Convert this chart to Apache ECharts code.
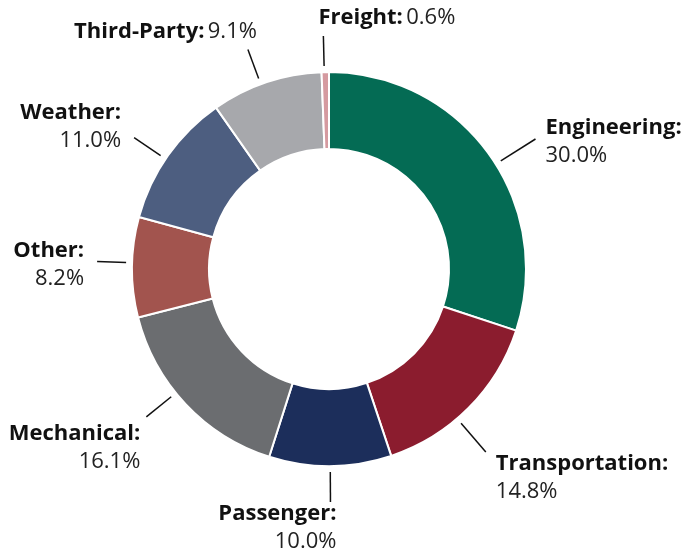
<!DOCTYPE html>
<html>
<head>
<meta charset="utf-8">
<script src="https://cdn.jsdelivr.net/npm/echarts@6/dist/echarts.min.js"></script>
<style>
  html, body { margin: 0; padding: 0; background: #fff; }
  #chart { width: 689px; height: 559px; }
</style>
</head>
<body>
<div id="chart"></div>
<script>
// 数据
var categories = ['Engineering', 'Transportation', 'Passenger', 'Mechanical', 'Other', 'Weather', 'Third-Party', 'Freight'];
var shares = [30.0, 14.8, 10.0, 16.1, 8.2, 11.0, 9.1, 0.6];
var colors = ['#046B54', '#8B1C2E', '#1C2E5B', '#6B6D70', '#A2544E', '#4D5E80', '#A7A8AC', '#D59AA0'];

// 引导线的布局：角度偏移（度，顺时针）、长度、标签纵向微调
var leaderShift = [3.7, 4.5, 0, 4.3, 1.3, -1.2, -1.7, -0.3];
var leaderLen = [41, 38, 30, 32, 29, 32, 31, 30];
var labelDy = [0, 0, 0, 5, 0, -14, 0, 0];

var CENTER = [329, 269];
var R_OUT = 197;

// 每个扇区中点所在的比例（从顶部顺时针）
var total = shares.reduce(function (a, b) { return a + b; }, 0);
var midFrac = [];
var acc = 0;
shares.forEach(function (v) {
  midFrac.push((acc + v / 2) / total);
  acc += v;
});

var myChart = echarts.init(document.getElementById('chart'));

var option = {
  animation: false,
  series: [
    {
      type: 'pie',
      center: CENTER,
      radius: [120, R_OUT],
      startAngle: 90,
      clockwise: true,
      avoidLabelOverlap: false,
      itemStyle: {
        borderColor: '#fff',
        borderWidth: 2
      },
      label: {
        show: true,
        position: 'outside',
        formatter: function (p) {
          var f = midFrac[p.dataIndex];
          var sep = (f > 0.85 || f < 0.02) ? ' ' : '\n';   // 顶部的标签单行显示
          return '{n|' + p.name + ':}' + sep + '{v|' + p.value.toFixed(1) + '%}';
        },
        rich: {
          n: { fontFamily: 'Open Sans', fontWeight: 'bold', fontSize: 22, color: '#111', lineHeight: 28 },
          v: { fontFamily: 'Open Sans', fontWeight: 'normal', fontSize: 22, color: '#222', lineHeight: 28 }
        }
      },
      labelLine: {
        show: true,
        length: 30,
        length2: 0,
        lineStyle: { color: '#111', width: 1.5 }
      },
      labelLayout: function (params) {
        var pts = params.labelLinePoints;
        if (!pts) return {};
        var i = params.dataIndex;
        // 扇区中点方向（来自饼图布局），再按偏移旋转
        var a = Math.atan2(pts[0][1] - CENTER[1], pts[0][0] - CENTER[0]);
        a += (leaderShift[i] || 0) * Math.PI / 180;
        var ux = Math.cos(a), uy = Math.sin(a);
        var r0 = R_OUT + 6, r1 = r0 + (leaderLen[i] || 30);
        var start = [CENTER[0] + ux * r0, CENTER[1] + uy * r0];
        var end = [CENTER[0] + ux * r1, CENTER[1] + uy * r1];

        var align, x;
        if (Math.abs(ux) < 0.15) {
          align = ux < 0 ? 'left' : 'right';
          x = ux < 0 ? end[0] - 5 : end[0] + 6;
        } else if (uy < -0.75) {
          align = ux < 0 ? 'right' : 'left';
          x = ux < 0 ? end[0] + 9 : end[0] - 9;
        } else if (uy > 0.6) {
          align = ux > 0 ? 'left' : 'right';
          x = ux > 0 ? end[0] + 10 : end[0] - 6;
        } else {
          align = ux > 0 ? 'left' : 'right';
          x = ux > 0 ? end[0] + 10 : end[0] - 13;
        }
        var valign, y;
        if (uy < -0.75) {
          valign = 'bottom';
          y = end[1] - 4;
        } else if (uy > 0.6) {
          valign = 'top';
          y = end[1] - 2;
        } else {
          valign = 'middle';
          y = end[1] + 3;
        }
        return {
          x: x,
          y: y + (labelDy[i] || 0),
          align: align,
          verticalAlign: valign,
          labelLinePoints: [start, end, end]
        };
      },
      data: categories.map(function (c, i) {
        return { name: c, value: shares[i], itemStyle: { color: colors[i] } };
      })
    }
  ]
};

myChart.setOption(option);
</script>
</body>
</html>
